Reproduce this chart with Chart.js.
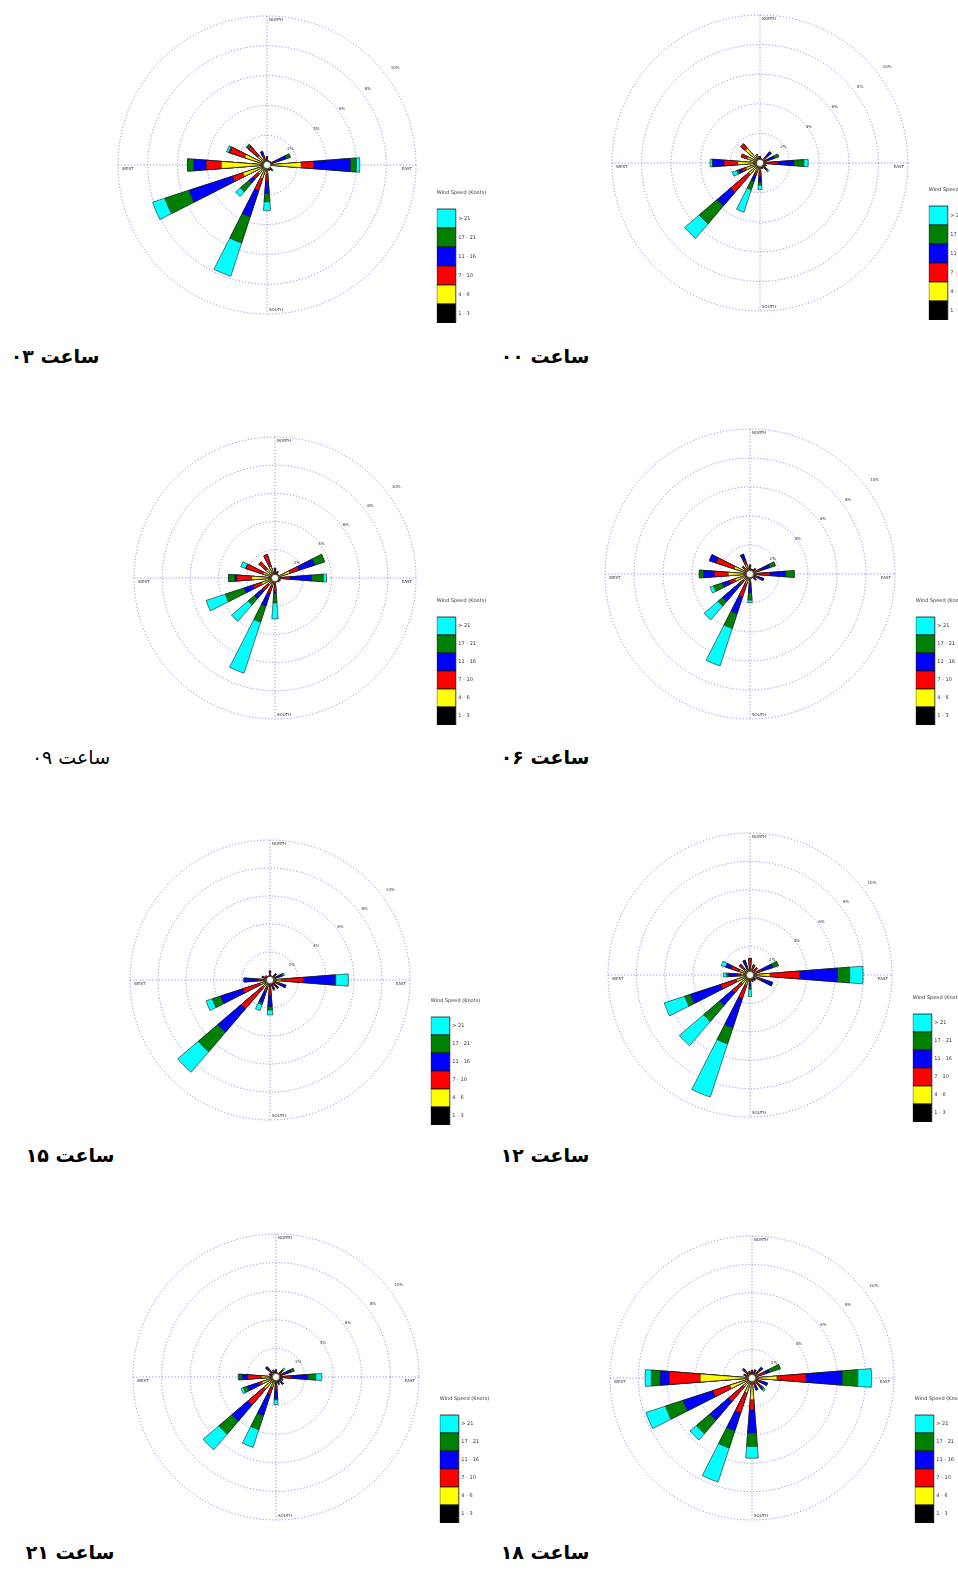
<!DOCTYPE html>
<html><head><meta charset="utf-8">
<script src="https://cdn.jsdelivr.net/npm/chart.js@4.4.1/dist/chart.umd.min.js"></script>
<style>
html,body{margin:0;padding:0;background:#fff;}
body{width:958px;height:1578px;position:relative;overflow:hidden;}
canvas{position:absolute;}
.cap{position:absolute;width:200px;text-align:center;direction:rtl;font-family:"DejaVu Sans";font-size:19px;color:#000;line-height:26px;white-space:nowrap;}
</style></head><body>
<script>
// ---- categories / labels ----
const directions = ['N','NNE','NE','ENE','E','ESE','SE','SSE','S','SSW','SW','WSW','W','WNW','NW','NNW'];
const speedBins = ['1 - 3','4 - 6','7 - 10','11 - 16','17 - 21','> 21'];
const ringValues = [2,4,6,8,10];
const ringLabels = ['2%','4%','6%','8%','10%'];

// ---- frequencies (%) per speed bin, per direction (N..NNW) ----
// hour 00
const h00_k1_3   = [0.1,0.05,0.1,0.1,0.1,0.1,0.1,0.1,0.1,0.1,0.1,0.1,0.1,0.1,0.1,0.1];
const h00_k4_6   = [0.1,0.15,0.3,0.2,0.35,0.2,0.2,0.2,0.4,0.5,0.9,0.9,1.4,0.8,1.2,0.5];
const h00_k7_10  = [0.1,0.1,0.2,0.2,0.75,0.15,0.2,0.1,0.4,0.3,1.6,0.3,0.93,0.43,0.4,0];
const h00_k11_16 = [0.15,0,0.4,0.5,1.1,0,0.1,0,0.4,0.4,1.2,0.2,0.76,0,0,0];
const h00_k17_21 = [0,0,0,0.33,0.67,0,0.1,0,0.2,0.6,1.6,0.15,0.03,0,0,0];
const h00_k21p   = [0,0,0,0,0.29,0,0.1,0,0.3,1.6,1.3,0.31,0.15,0,0,0];
// hour 03
const h03_k1_3   = [0.1,0.05,0.05,0.1,0.1,0.05,0.1,0.1,0.1,0.1,0.1,0.1,0.1,0.1,0.1,0.1];
const h03_k4_6   = [0.2,0.15,0.15,0.2,2.19,0.15,0.2,0.1,0.5,0.86,0.7,1.6,2.97,1.47,0.7,0.3];
const h03_k7_10  = [0.26,0.1,0.1,0.2,0.85,0,0.1,0.1,0.5,0.84,0.4,0.73,1.01,1.05,0.85,0.3];
const h03_k11_16 = [0,0,0,0.85,2.46,0,0.05,0.05,0.8,1.85,0.4,3.07,0.85,0.03,0,0.26];
const h03_k17_21 = [0,0,0,0.3,0.4,0,0.05,0.05,0.57,1.85,0.75,1.7,0.41,0.05,0.18,0];
const h03_k21p   = [0,0,0,0,0.23,0,0.05,0,0.6,2.35,0.43,0.87,0,0.15,0,0];
// hour 06
const h06_k1_3   = [0.1,0.05,0.1,0.1,0.1,0.1,0.1,0.05,0.1,0.1,0.1,0.1,0.1,0.1,0.1,0.1];
const h06_k4_6   = [0.2,0.15,0.2,0.3,0.4,0.2,0.2,0.15,0.4,0.6,0.5,1.0,1.4,1.05,0.4,0.6];
const h06_k7_10  = [0.32,0.15,0.2,0.4,0.88,0.2,0.1,0.1,0.2,0.96,0.4,0.4,0.96,1.3,0.2,0.3];
const h06_k11_16 = [0,0,0,0.65,1.08,0.5,0.1,0,0.6,1.21,1.5,0.5,0.74,0.49,0,0.43];
const h06_k17_21 = [0,0,0,0.39,0.6,0,0.05,0,0.5,1.08,0.4,0.65,0.3,0,0,0];
const h06_k21p   = [0,0,0,0,0,0,0.05,0,0.18,2.72,1.27,0.25,0,0,0,0];
// hour 09
const h09_k1_3   = [0.1,0.05,0.05,0.1,0.1,0.1,0.05,0.05,0.1,0.1,0.1,0.1,0.1,0.1,0.1,0.1];
const h09_k4_6   = [0.2,0.15,0.15,1.0,0.3,0.1,0.15,0.15,0.3,0.5,0.5,0.9,1.55,0.8,0.73,0.78];
const h09_k7_10  = [0.2,0.1,0.1,0.67,0.66,0.1,0.1,0.1,0.55,0.56,0.6,0.65,1.07,1.27,0.67,0.87];
const h09_k11_16 = [0.2,0.2,0,1.18,1.54,0.1,0.05,0,0.15,0.94,0.7,0.65,0.13,0,0,0];
const h09_k17_21 = [0,0,0,0.75,0.83,0,0,0,0.67,1.2,0.6,1.4,0.45,0,0,0];
const h09_k21p   = [0,0,0,0,0.23,0,0.05,0,1.13,3.8,1.55,1.44,0,0.38,0,0];
// hour 12
const h12_k1_3   = [0.1,0.1,0.1,0.1,0.1,0.1,0.1,0.1,0.1,0.1,0.1,0.1,0.1,0.1,0.1,0.1];
const h12_k4_6   = [0.4,0.3,0.3,0.4,1.3,0.4,0.2,0.2,0.3,0.65,0.7,0.9,0.5,0.7,0.4,0.3];
const h12_k7_10  = [0.67,0.35,0.3,0.4,2.11,0.4,0.2,0.1,0.2,0.99,0.84,1.15,0.3,0.6,0.5,0.2];
const h12_k11_16 = [0,0,0,0.8,2.65,0.78,0,0.1,0.2,2.16,1.16,2.25,0.6,0.4,0,0.5];
const h12_k17_21 = [0,0,0,0.4,0.87,0,0,0,0.2,1.2,1.5,0.43,0.15,0,0,0];
const h12_k21p   = [0,0,0,0,0.93,0,0,0,0.52,3.94,2.25,1.52,0.22,0.33,0,0];
// hour 15
const h15_k1_3   = [0.1,0.05,0.1,0.1,0.1,0.1,0.1,0.1,0.1,0.1,0.1,0.1,0.1,0.1,0.05,0.05];
const h15_k4_6   = [0.2,0.15,0.2,0.3,0.7,0.3,0.2,0.2,0.3,0.4,0.57,0.65,0.4,0.3,0.15,0.15];
const h15_k7_10  = [0.35,0.1,0.2,0.2,1.58,0.3,0.2,0.2,0.7,0.4,2.03,1.3,0.4,0.2,0.2,0.1];
const h15_k11_16 = [0,0,0.1,0.3,2.26,0.5,0.3,0.2,0.8,0.8,2.2,1.65,0.96,0,0,0];
const h15_k17_21 = [0,0,0,0.1,0.06,0,0,0,0.25,0.15,1.84,0.63,0,0,0,0];
const h15_k21p   = [0,0,0,0.1,0.9,0,0,0.1,0.35,0.45,1.93,0.47,0,0,0,0];
// hour 18
const h18_k1_3   = [0.1,0.1,0.1,0.1,0.1,0.1,0.1,0.1,0.1,0.1,0.1,0.1,0.1,0.1,0.1,0.1];
const h18_k4_6   = [0.2,0.2,0.3,0.4,1.66,0.3,0.3,0.3,1.43,1.0,0.7,1.54,3.55,0.3,0.3,0.2];
const h18_k7_10  = [0.25,0.3,0.3,0.5,2.05,0.3,0.3,0.2,0.71,1.49,1.37,1.26,2.19,0.2,0.3,0.2];
const h18_k11_16 = [0,0,0.3,0.3,2.54,0.45,0.3,0.3,1.64,1.31,1.73,2.2,0.63,0,0.1,0];
const h18_k17_21 = [0,0,0,0.8,1.11,0,0.1,0,0.94,1.28,1.25,1.3,0.63,0,0.1,0];
const h18_k21p   = [0,0,0,0,0.96,0,0.15,0,0.83,2.53,0.59,1.45,0.43,0,0,0];
// hour 21
const h21_k1_3   = [0.1,0.05,0.1,0.1,0.1,0.1,0.1,0.1,0.1,0.1,0.1,0.1,0.1,0.1,0.1,0.1];
const h21_k4_6   = [0.2,0.15,0.2,0.2,0.2,0.2,0.2,0.2,0.3,0.65,1.0,0.95,0.9,0.2,0.3,0.2];
const h21_k7_10  = [0.2,0.1,0.2,0.3,0.8,0.2,0.2,0.1,0.5,0.53,1.48,0.25,1.0,0.2,0.3,0.2];
const h21_k11_16 = [0,0,0.1,0.5,1.13,0,0.2,0.1,0.6,1.56,1.47,0.8,0.37,0,0.25,0];
const h21_k17_21 = [0,0,0.1,0.24,0.56,0,0,0,0.1,1.04,1.21,0.3,0.23,0,0,0];
const h21_k21p   = [0,0,0.15,0,0.41,0,0,0.1,0.33,1.3,1.44,0.17,0.05,0,0,0];

// ---- styles ----
const binColors = ['#000000','#ffff00','#ff0000','#0000ff','#008000','#00ffff'];
const gridColor = 'rgba(110,110,230,0.85)';
const gridDash = [1.2, 2];

const panels = [
  {bins:[h03_k1_3,h03_k4_6,h03_k7_10,h03_k11_16,h03_k17_21,h03_k21p], cx:267, cy:165, R:149, d:9, bh:19, cap:'ساعت ۰۳', capCx:55, capCy:356, bold:true},
  {bins:[h00_k1_3,h00_k4_6,h00_k7_10,h00_k11_16,h00_k17_21,h00_k21p], cx:760, cy:163, R:148, d:9, bh:19, cap:'ساعت ۰۰', capCx:545, capCy:356, bold:true},
  {bins:[h09_k1_3,h09_k4_6,h09_k7_10,h09_k11_16,h09_k17_21,h09_k21p], cx:275, cy:578, R:141, d:6, bh:18, cap:'ساعت ۰۹', capCx:71, capCy:757, bold:false},
  {bins:[h06_k1_3,h06_k4_6,h06_k7_10,h06_k11_16,h06_k17_21,h06_k21p], cx:750, cy:574, R:145, d:6, bh:18, cap:'ساعت ۰۶', capCx:545, capCy:757, bold:true},
  {bins:[h15_k1_3,h15_k4_6,h15_k7_10,h15_k11_16,h15_k17_21,h15_k21p], cx:270, cy:980, R:140, d:5, bh:18, cap:'ساعت ۱۵', capCx:70, capCy:1155, bold:true},
  {bins:[h12_k1_3,h12_k4_6,h12_k7_10,h12_k11_16,h12_k17_21,h12_k21p], cx:750, cy:975, R:142, d:5, bh:18, cap:'ساعت ۱۲', capCx:545, capCy:1155, bold:true},
  {bins:[h21_k1_3,h21_k4_6,h21_k7_10,h21_k11_16,h21_k17_21,h21_k21p], cx:276, cy:1377, R:143, d:3, bh:18, cap:'ساعت ۲۱', capCx:70, capCy:1552, bold:true},
  {bins:[h18_k1_3,h18_k4_6,h18_k7_10,h18_k11_16,h18_k17_21,h18_k21p], cx:752, cy:1378, R:142, d:3, bh:18, cap:'ساعت ۱۸', capCx:545, capCy:1552, bold:true}
];

const roseDecor = {
  id: 'roseDecor',
  beforeDatasetsDraw(chart) {
    const s = chart.scales.r, ctx = chart.ctx;
    const x = s.xCenter, y = s.yCenter, R = s.getDistanceFromCenterForValue(10);
    ctx.save();
    ctx.strokeStyle = gridColor; ctx.lineWidth = 0.9; ctx.setLineDash(gridDash);
    ctx.beginPath();
    ctx.moveTo(x, y - R); ctx.lineTo(x, y + R);
    ctx.moveTo(x - R, y); ctx.lineTo(x + R, y);
    ctx.stroke();
    ctx.setLineDash([]);
    ctx.fillStyle = '#333'; ctx.font = '4px "DejaVu Sans"';
    ctx.textBaseline = 'middle'; ctx.textAlign = 'left';
    ctx.fillText('NORTH', x + 2, y - R + 4);
    ctx.fillText('SOUTH', x + 2, y + R - 4);
    ctx.fillText('WEST', x - R + 4, y + 4);
    ctx.textAlign = 'right';
    ctx.fillText('EAST', x + R - 4, y + 4);
    ctx.textAlign = 'left';
    const a = 52 * Math.PI / 180;
    ringValues.forEach((v, i) => {
      const r = s.getDistanceFromCenterForValue(v) * 1.1 - 7;
      ctx.fillText(ringLabels[i], x + r * Math.sin(a), y - r * Math.cos(a));
    });
    ctx.restore();
  },
  afterDatasetsDraw(chart) {
    const s = chart.scales.r, ctx = chart.ctx;
    ctx.save();
    ctx.beginPath(); ctx.arc(s.xCenter, s.yCenter, 3.5, 0, 2 * Math.PI);
    ctx.fillStyle = '#fff'; ctx.fill();
    ctx.lineWidth = 0.6; ctx.strokeStyle = '#333'; ctx.stroke();
    ctx.restore();
  }
};

function buildRose(p, cv, W, H, pad) {
  const {R, d, bh} = p;
  cv.width = W; cv.height = H;
  cv.style.width = W + 'px'; cv.style.height = H + 'px';
  const labels = [];
  directions.forEach(dn => { labels.push(dn); labels.push(''); });
  const datasets = [];
  let cum = new Array(directions.length).fill(0);
  p.bins.forEach((arr, b) => {
    cum = cum.map((v, i) => v + arr[i]);
    const data = [];
    cum.forEach(v => { data.push(Math.round(v * 1000) / 1000); data.push(0); });
    datasets.push({
      label: speedBins[b], data,
      backgroundColor: binColors[b], borderColor: '#1a1a1a',
      borderWidth: c => (c.dataIndex % 2 ? 0 : 0.6),
      angle: c => (c.dataIndex % 2 ? 13.5 : 9)
    });
  });
  return new Chart(cv, {
    type: 'polarArea',
    data: {labels, datasets},
    options: {
      responsive: false, animation: false, events: [],
      layout: {padding: pad},
      scales: {
        r: {
          min: 0, max: 10 * (R + d) / R, startAngle: -4.5,
          ticks: {display: false, stepSize: 2, includeBounds: false},
          grid: {color: gridColor, lineWidth: 0.9},
          border: {dash: gridDash},
          angleLines: {display: false},
          pointLabels: {display: false},
          afterBuildTicks: s => { s.ticks = s.ticks.filter(t => t.value <= 10.0001); }
        }
      },
      plugins: {
        tooltip: {enabled: false},
        legend: {
          display: true, position: 'right', align: 'end',
          title: {display: true, text: 'Wind Speed (Knots)', position: 'start', color: '#333',
                  font: {size: 5, family: 'DejaVu Sans'}, padding: {top: 0, bottom: 13}},
          labels: {
            boxWidth: 19, boxHeight: bh, padding: 0, color: '#333',
            font: {size: 5, family: 'DejaVu Sans'},
            generateLabels: ch => ch.data.datasets.map((ds, i) => ({
              text: ds.label, fillStyle: ds.backgroundColor, strokeStyle: '#111',
              lineWidth: 0.8, hidden: false, datasetIndex: i
            })).reverse()
          }
        }
      }
    },
    plugins: [roseDecor]
  });
}

function makeRose(p) {
  const {cx, cy, R, d} = p;
  const pad = {left: 2, right: 2, top: 2, bottom: 2};
  const w = 2 * R + 40, h = 2 * R + 2 * d;
  const H = pad.top + h + pad.bottom;
  const cv = document.createElement('canvas');
  cv.style.left = (cx - R - 20 - pad.left) + 'px';
  cv.style.top = (cy - R - d - pad.top) + 'px';
  document.body.appendChild(cv);
  // first pass: measure the legend width, then rebuild so the plot area is exactly w wide
  let chart = buildRose(p, cv, pad.left + w + 48 + pad.right, H, pad);
  const lw = Math.ceil(chart.legend.width);
  chart.destroy();
  chart = buildRose(p, cv, pad.left + w + lw + pad.right, H, pad);
  const s = chart.scales.r;
  cv.style.left = (cx - s.xCenter) + 'px';
  cv.style.top = (cy - s.yCenter) + 'px';

  const cap = document.createElement('div');
  cap.className = 'cap';
  cap.textContent = p.cap;
  cap.style.left = (p.capCx - 100) + 'px';
  cap.style.top = (p.capCy - 13) + 'px';
  cap.style.fontWeight = p.bold ? 'bold' : 'normal';
  document.body.appendChild(cap);
}

panels.forEach(makeRose);
</script>
</body></html>
